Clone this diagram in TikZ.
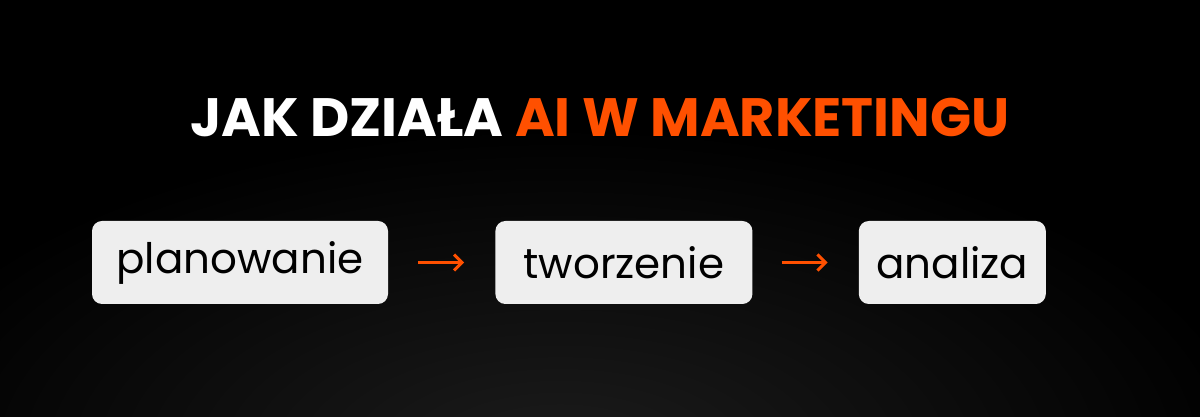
\documentclass[tikz,border=0pt]{standalone}
\usepackage{fontspec}
\setmainfont{Poppins}
\usepackage{tikz}
\usetikzlibrary{positioning}
\usetikzlibrary{arrows.meta}
\definecolor{aiorange}{HTML}{FF5000}
\definecolor{boxgray}{HTML}{EEEEEE}
\definecolor{glow}{HTML}{1C1C1C}

\begin{document}
\begin{tikzpicture}[x=1pt,y=1pt]
\tikzset{stage/.style={draw=none,fill=boxgray,rounded corners=10pt,minimum height=83pt,inner sep=0pt,text=black,font=\fontsize{42}{46}\selectfont}}
\tikzset{flow/.style={draw=aiorange,line width=3pt,-{Straight Barb[length=8pt,width=16pt]}}}
    % background
    \useasboundingbox (0,0) rectangle (1200,417);
    \fill[black] (0,0) rectangle (1200,417);
    \begin{scope}
        \clip (0,0) rectangle (1200,417);
        \shade[inner color=glow,outer color=black] (560,-40) ellipse (700 and 330);
    \end{scope}
    % title
    \node[anchor=base,font=\fontsize{54}{58}\selectfont\bfseries] (title) at (600,280)
        {\textcolor{white}{JAK DZIAŁA} \textcolor{aiorange}{AI W MARKETINGU}};
    % stages
        \node[stage,minimum width=296pt] (plan) at (240,154.5) {planowanie};
        \node[stage,minimum width=257pt,right=107pt of plan] (tworz) {tworzenie};
        \node[stage,minimum width=187pt,right=106pt of tworz] (anal) {analiza};
            \path[flow,shorten <=30pt,shorten >=31pt] (plan) -- (tworz);
            \path[flow,shorten <=29pt,shorten >=31pt] (tworz) -- (anal);
    \end{tikzpicture}
\end{document}
